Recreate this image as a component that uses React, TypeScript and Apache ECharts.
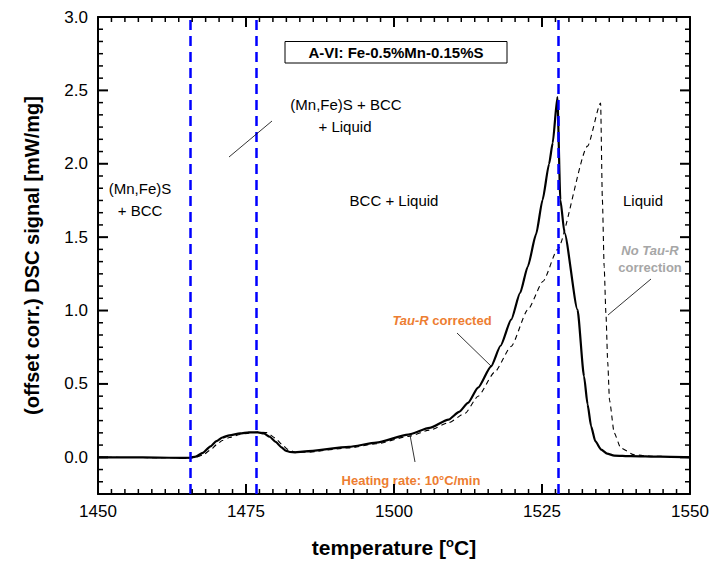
import React, { useEffect, useRef } from "react";
import * as echarts from "echarts";

// ---- data ----
const corrTemp = [1450, 1455, 1460, 1464, 1465.5, 1466.5, 1467.7, 1469, 1470, 1471, 1472.2, 1474, 1475.5, 1477, 1478, 1479, 1480, 1481, 1481.7, 1482.4, 1483.3, 1485, 1492.4, 1497, 1502.4, 1506, 1509.2, 1511, 1512.5, 1514.2, 1516.4, 1518, 1519.8, 1521.3, 1522.6, 1524, 1525.1, 1526.2, 1526.8, 1527.6, 1528.1, 1528.8, 1531, 1532.1, 1532.7, 1533.3, 1534, 1535, 1536, 1537.2, 1540, 1545, 1550];
const corrVal = [0.0, 0.0, -0.002, -0.004, -0.003, 0.005, 0.03, 0.075, 0.11, 0.135, 0.15, 0.163, 0.17, 0.17, 0.163, 0.14, 0.105, 0.068, 0.046, 0.036, 0.034, 0.04, 0.071, 0.1, 0.155, 0.2, 0.257, 0.31, 0.371, 0.475, 0.62, 0.76, 0.938, 1.12, 1.3, 1.52, 1.755, 2.0, 2.14, 2.455, 1.755, 1.53, 1.006, 0.552, 0.36, 0.211, 0.11, 0.052, 0.025, 0.012, 0.008, 0.004, 0.0];

const rawTemp = [1450, 1460, 1465.5, 1466.5, 1467.7, 1469, 1470, 1471, 1472.2, 1474, 1475.5, 1477, 1478.5, 1480, 1481, 1482, 1483.3, 1485, 1492.4, 1497, 1502.4, 1506, 1509.2, 1512, 1514.2, 1517, 1519.8, 1522.6, 1525.2, 1527.6, 1532.7, 1534.9, 1535.2, 1535.5, 1535.8, 1536.1, 1536.4, 1537.2, 1538.3, 1540.5, 1543, 1550];
const rawVal = [0.0, -0.002, -0.004, 0.0, 0.015, 0.05, 0.085, 0.115, 0.135, 0.155, 0.165, 0.172, 0.168, 0.13, 0.09, 0.055, 0.035, 0.034, 0.064, 0.092, 0.142, 0.185, 0.235, 0.3, 0.416, 0.58, 0.756, 1.006, 1.2, 1.415, 2.12, 2.414, 1.755, 1.3, 0.98, 0.65, 0.39, 0.166, 0.064, 0.018, 0.008, 0.0];

const phaseTemps = [1465.6, 1476.8, 1527.8];

const xMajorTicks = [1450, 1475, 1500, 1525, 1550];
const yMajorTicks = [0, 0.5, 1.0, 1.5, 2.0, 2.5, 3.0];
const X_MINOR_SPLIT = 11;
const Y_MINOR_SPLIT = 6;

const X_MIN = 1450;
const X_MAX = 1550;
const Y_MIN = -0.25;
const Y_MAX = 3.0;

const FONT = "'Liberation Sans', Arial, sans-serif";
const ORANGE = "#ED7D31";
const GRAY = "#A6A6A6";

export default function App() {
  const ref = useRef<HTMLDivElement>(null);
  useEffect(() => {
    if (!ref.current) return;
    const chart = echarts.init(ref.current, null, { renderer: "svg" });

    const axisLine = { show: true, onZero: false, lineStyle: { color: "#000", width: 2 } };
    const xBase = (pos: string, labels: boolean) => ({
      type: "value",
      position: pos,
      min: X_MIN,
      max: X_MAX,
      interval: 25,
      axisLine,
      axisTick: { show: false },
      minorTick: { show: false },
      splitLine: { show: false },
      axisLabel: { show: labels, fontSize: 17, color: "#000", margin: 9, fontFamily: FONT, formatter: (v: number) => String(v) },
    });
    const yBase = (pos: string, labels: boolean) => ({
      type: "value",
      position: pos,
      min: Y_MIN,
      max: Y_MAX,
      splitNumber: 6,
      axisLine,
      axisTick: { show: false },
      splitLine: { show: false },
      axisLabel: {
        show: labels,
        showMinLabel: false,
        formatter: (v: number) => (v < 0 ? "" : v.toFixed(1)),
        fontSize: 17,
        color: "#000",
        margin: 10,
        fontFamily: FONT,
      },
    });

    const xAxes: any[] = [xBase("bottom", true), xBase("top", false)];
    xAxes[0].name = "temperature [{sup|o}C]";
    xAxes[0].nameLocation = "middle";
    xAxes[0].nameGap = 42;
    xAxes[0].nameTextStyle = {
      fontSize: 21,
      fontWeight: "bold",
      color: "#000",
      fontFamily: FONT,
      rich: {
        sup: { fontSize: 13, fontWeight: "bold", color: "#000", fontFamily: FONT, verticalAlign: "top", padding: [0, 0, 10, 0] },
      },
    };
    const yAxes: any[] = [yBase("left", true), yBase("right", false)];
    yAxes[0].name = "(offset corr.) DSC signal [mW/mg]";
    yAxes[0].nameLocation = "middle";
    yAxes[0].nameGap = 56;
    yAxes[0].nameTextStyle = { fontSize: 20, fontWeight: "bold", color: "#000", fontFamily: FONT };

    const txt = (x: number, y: number, text: string, style: any = {}) => ({
      type: "text",
      x,
      y,
      z: 100,
      style: {
        text,
        fontSize: 15,
        fontFamily: FONT,
        fill: "#000",
        align: "center",
        verticalAlign: "middle",
        ...style,
      },
    });
    const line = (x1: number, y1: number, x2: number, y2: number, w: number) => ({
      type: "line",
      z: 100,
      silent: true,
      shape: { x1, y1, x2, y2 },
      style: { stroke: "#000", lineWidth: w },
    });

    const annotations: any[] = [
      {
        type: "rect",
        z: 100,
        shape: { x: 285, y: 41.5, width: 222, height: 21.5 },
        style: { fill: "#fff", stroke: "#000", lineWidth: 1 },
      },
      txt(396, 52.5, "A-VI: Fe-0.5%Mn-0.15%S", { fontWeight: "bold" }),
      txt(346, 104, "(Mn,Fe)S + BCC"),
      txt(345, 126, "+ Liquid"),
      line(229, 157, 272, 121, 0.8),
      txt(140, 188, "(Mn,Fe)S"),
      txt(140, 210, "+ BCC"),
      txt(394, 200, "BCC + Liquid"),
      txt(643, 200, "Liquid"),
      txt(650, 250, "No Tau-R", { fontSize: 13, fontWeight: "bold", fontStyle: "italic", fill: GRAY }),
      txt(650, 267, "correction", { fontSize: 13, fontWeight: "bold", fill: GRAY }),
      line(651, 279, 608, 315, 0.8),
      txt(442, 320, "{i|Tau-R} corrected", {
        fontSize: 13,
        fontWeight: "bold",
        fill: ORANGE,
        rich: { i: { fontSize: 13, fontWeight: "bold", fontStyle: "italic", fill: ORANGE, fontFamily: FONT } },
      }),
      line(457, 333, 492, 367, 0.8),
      txt(411, 480, "Heating rate: 10\u00B0C/min", { fontSize: 13, fontWeight: "bold", fill: ORANGE }),
      line(410, 435, 415, 462, 0.8),
    ];

    chart.setOption({
      animation: false,
      backgroundColor: "#fff",
      grid: { left: 98, right: 23, top: 17, bottom: 74, containLabel: false },
      xAxis: xAxes,
      yAxis: yAxes,
      series: [
        {
          type: "line",
          name: "Tau-R corrected",
          data: corrTemp.map((t, i) => [t, corrVal[i]]),
          showSymbol: false,
          smooth: 0.2,
          smoothMonotone: "x",
          lineStyle: { color: "#000", width: 2.2 },
          z: 3,
          markLine: {
            silent: true,
            symbol: "none",
            label: { show: false },
            lineStyle: { color: "#0000FF", width: 2.5, type: [10, 6] },
            data: phaseTemps.map((t) => ({ xAxis: t })),
          },
        },
        {
          type: "line",
          name: "No Tau-R correction",
          data: rawTemp.map((t, i) => [t, rawVal[i]]),
          showSymbol: false,
          smooth: 0.2,
          smoothMonotone: "x",
          lineStyle: { color: "#000", width: 1.1, type: [5, 4] },
          z: 2,
        },
      ],
      graphic: annotations,
    });

    // axis ticks on all four sides, placed through the axes' own scales
    const px = (v: number) => chart.convertToPixel({ xAxisIndex: 0 }, v) as number;
    const py = (v: number) => chart.convertToPixel({ yAxisIndex: 0 }, v) as number;
    const left = px(X_MIN);
    const right = px(X_MAX);
    const bottom = py(Y_MIN);
    const top = py(Y_MAX);
    const ticks: any[] = [];
    const MAJ = 10;
    const MIN = 5;
    const xTick = (v: number, len: number, w: number) => {
      const x = px(v);
      ticks.push(line(x, bottom, x, bottom - len, w));
      ticks.push(line(x, top, x, top + len, w));
    };
    const yTick = (v: number, len: number, w: number) => {
      const y = py(v);
      ticks.push(line(left, y, left + len, y, w));
      ticks.push(line(right, y, right - len, y, w));
    };
    xMajorTicks.forEach((v, i) => {
      xTick(v, MAJ, 2);
      if (i < xMajorTicks.length - 1) {
        const step = (xMajorTicks[i + 1] - v) / X_MINOR_SPLIT;
        for (let k = 1; k < X_MINOR_SPLIT; k++) xTick(v + k * step, MIN, 1.5);
      }
    });
    yMajorTicks.forEach((v, i) => {
      yTick(v, MAJ, 2);
      const step = 0.5 / Y_MINOR_SPLIT;
      if (i < yMajorTicks.length - 1) {
        for (let k = 1; k < Y_MINOR_SPLIT; k++) yTick(v + k * step, MIN, 1.5);
      }
      if (i === 0) {
        for (let k = 1; v - k * step > Y_MIN; k++) yTick(v - k * step, MIN, 1.5);
      }
    });

    chart.setOption({ graphic: [...annotations, ...ticks] });

    return () => chart.dispose();
  }, []);

  return (
    <div
      ref={ref}
      style={{ position: "fixed", left: 0, top: 0, width: 713, height: 568, background: "#fff" }}
    />
  );
}
